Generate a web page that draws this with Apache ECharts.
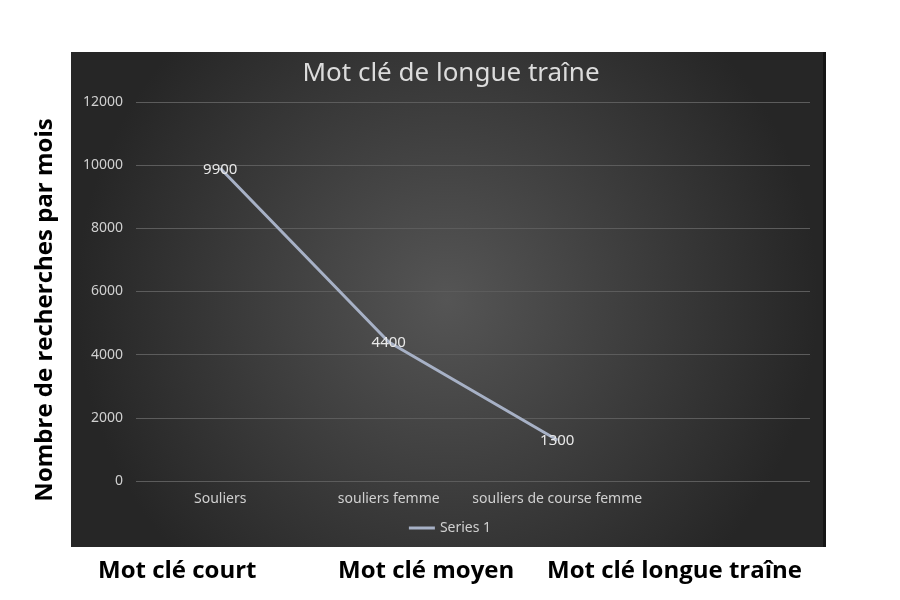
<!DOCTYPE html>
<html>
<head>
<meta charset="utf-8">
<script src="https://cdn.jsdelivr.net/npm/echarts@6/dist/echarts.min.js"></script>
<style>html,body{margin:0;padding:0;background:#fff}#c{width:900px;height:600px}</style>
</head>
<body>
<div id="c"></div>
<script>
var categories = ['Souliers', 'souliers femme', 'souliers de course femme', ''];
var series1 = [9900, 4400, 1300, null];
var yTicks = { min: 0, max: 12000, interval: 2000 };
var bottomLabels = ['Mot clé court', 'Mot clé moyen', 'Mot clé longue traîne'];
var titleText = 'Mot clé de longue traîne';
var yAxisTitle = 'Nombre de recherches par mois';
var seriesName = 'Series 1';

var chart = echarts.init(document.getElementById('c'), null, { renderer: 'canvas' });
var labelXs = [98, 338, 547];
var option = {
  backgroundColor: '#ffffff',
  animation: false,
  title: {
    text: titleText,
    left: 446, top: 56, textAlign: 'center',
    textStyle: { color: '#dcdcdc', fontSize: 26, fontWeight: 'normal', fontFamily: 'Noto Sans' }
  },
  legend: {
    data: [seriesName],
    left: 'center', top: 516, itemWidth: 26, itemHeight: 3, itemGap: 3,
    icon: 'rect',
    textStyle: { color: '#d0d0d0', fontSize: 14, fontFamily: 'Noto Sans' }
  },
  grid: { left: 136, right: 90, top: 102, bottom: 119 },
  xAxis: {
    type: 'category', data: categories, boundaryGap: true,
    axisLine: { show: false }, axisTick: { show: false },
    axisLabel: { color: '#d0d0d0', fontSize: 14, fontFamily: 'Noto Sans', margin: 11, interval: 0 }
  },
  yAxis: {
    type: 'value', min: yTicks.min, max: yTicks.max, interval: yTicks.interval,
    axisLine: { show: false }, axisTick: { show: false },
    axisLabel: { color: '#d0d0d0', fontSize: 14, fontFamily: 'Noto Sans', margin: 13,
      formatter: function (v) { return String(v); } },
    splitLine: { lineStyle: { color: '#5c5c5c', width: 1 } }
  },
  series: [{
    name: seriesName, type: 'line', data: series1,
    symbol: 'circle', symbolSize: 1, showSymbol: true, smooth: false,
    lineStyle: { color: '#a7b1c6', width: 3 },
    itemStyle: { color: '#a7b1c6' },
    label: { show: true, position: 'top', distance: 0, offset: [0, 9], color: '#e8e8e8', fontSize: 15, fontFamily: 'Noto Sans' }
  }],
  graphic: [
    {
      type: 'rect', z: -10, silent: true,
      shape: { x: 71, y: 52, width: 752, height: 495 },
      style: {
        fill: {
          type: 'radial', x: 0.5, y: 0.5, r: 0.75,
          colorStops: [{ offset: 0, color: '#555555' }, { offset: 1, color: '#262626' }]
        }
      }
    },
    {
      type: 'rect', z: -9, silent: true,
      shape: { x: 823, y: 52, width: 3, height: 495 },
      style: { fill: '#151515' }
    },
    {
      type: 'text', silent: true,
      x: 45, y: 310, rotation: Math.PI / 2,
      style: { text: yAxisTitle, fill: '#000', font: 'bold 24px "Open Sans"', textAlign: 'center', textVerticalAlign: 'middle' }
    }
  ].concat(bottomLabels.map(function (t, i) {
    return {
      type: 'text', left: labelXs[i], top: 559,
      style: { text: t, fill: '#000', font: 'bold 24px "Open Sans"' }
    };
  }))
};
chart.setOption(option);
</script>
</body>
</html>
